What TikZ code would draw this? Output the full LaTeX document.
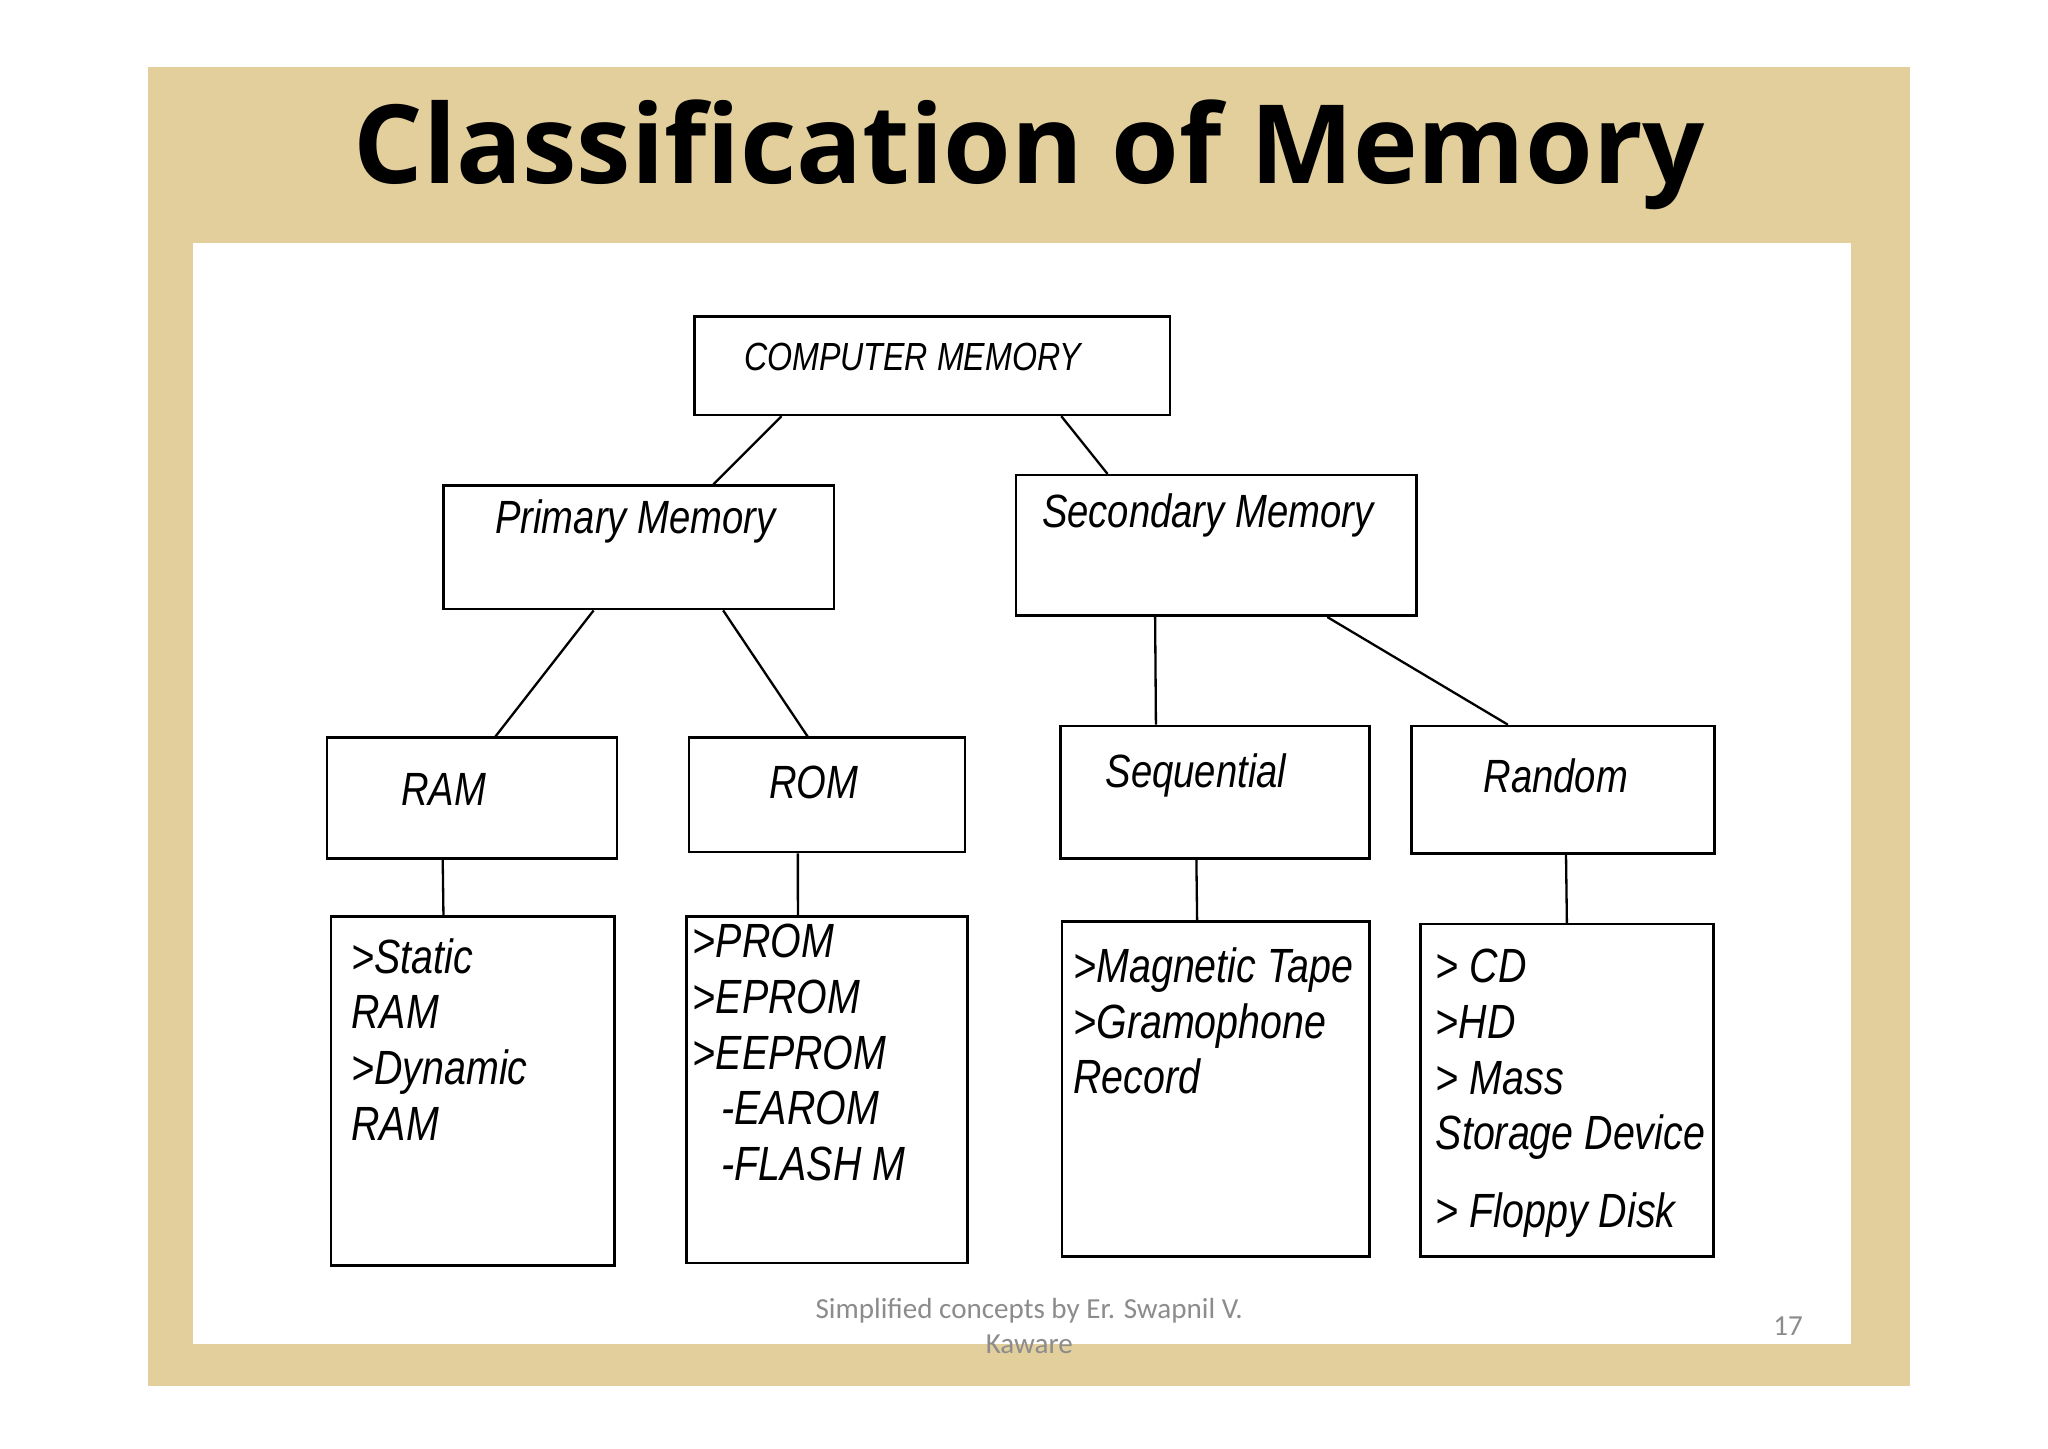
\documentclass[tikz,border=0pt]{standalone}
\usepackage{fontspec}
\setmainfont{Liberation Sans}
\newfontfamily\narrowsans[FakeStretch=0.82]{Liberation Sans}
\newfontfamily\titlefont{Open Sans}
\newfontfamily\footfont{Carlito}
\usetikzlibrary{calc, positioning}
\definecolor{burlap}{HTML}{E2CF9C}
\definecolor{footgray}{HTML}{8C8C8C}

\begin{document}
\begin{tikzpicture}[x=0.01cm, y=-0.01cm, thin]
    % Define block styles
    \tikzset{box/.style = {draw, line width=0.55pt, anchor=north west, inner sep=0pt},
        lbl/.style = {font=\narrowsans\itshape\fontsize{10.1}{12}\selectfont},
        items/.style = {anchor=north west, align=left, inner sep=0pt,
            font=\narrowsans\itshape\fontsize{10.4}{12.1}\selectfont},
        link/.style = {draw, line width=0.5pt}}

    % Slide background
    \useasboundingbox (0,0) rectangle (1560,1103);
    \fill[white] (0,0) rectangle (1560,1103);
    \fill[burlap] (113,51) rectangle (1455,1056);
    \fill[white] (147,185) rectangle (1410,1024);
    \node[font=\titlefont\bfseries\fontsize{23.7}{26}\selectfont] (title) at (784,118) {Classification of Memory};

    % Define nodes
    \node[box, minimum width=3.62cm, minimum height=0.75cm] (cm) at (528,240) {};
    \node[box, minimum width=2.97cm, minimum height=0.94cm] (prim) at (337,369) {};
    \node[box, minimum width=3.05cm, minimum height=1.07cm] (sec) at (773,361) {};
    \node[box, minimum width=2.21cm, minimum height=0.92cm] (ram) at (248,561) {};
    \node[box, minimum width=2.10cm, minimum height=0.87cm] (rom) at (524,561) {};
    \node[box, minimum width=2.35cm, minimum height=1.01cm] (seq) at (807,552) {};
    \node[box, minimum width=2.31cm, minimum height=0.97cm] (rnd) at (1074,552) {};
    \node[box, minimum width=2.16cm, minimum height=2.66cm] (ramlist) at (251,697) {};
    \node[box, minimum width=2.14cm, minimum height=2.64cm] (romlist) at (522,697) {};
    \node[box, minimum width=2.34cm, minimum height=2.55cm] (seqlist) at (808,701) {};
    \node[box, minimum width=2.23cm, minimum height=2.53cm] (rndlist) at (1081,703) {};

    % Labels
    \node[font=\narrowsans\itshape\fontsize{8.5}{10}\selectfont] (cmtext) at (695,272) {COMPUTER MEMORY};
    \node[lbl] (primtext) at (484,397) {Primary Memory};
    \node[lbl] (sectext) at (920,393) {Secondary Memory};
    \node[lbl] (ramtext) at (338,601) {RAM};
    \node[lbl] (romtext) at (620,596) {ROM};
    \node[lbl] (seqtext) at (911,591) {Sequential};
    \node[lbl] (rndtext) at (1185,591) {Random};
    \node[items] (ramitems) at (267,714) {>Static\\RAM\\>Dynamic\\RAM};
    \node[items] (romitems) at (527,703) {>PROM\\>EPROM\\>EEPROM\\\hspace{0.6em}-EAROM\\\hspace{0.6em}-FLASH M};
    \node[items] (seqitems) at (817,721) {>Magnetic Tape\\>Gramophone\\Record};
    \node[items] (rnditems) at (1093,722) {> CD\\>HD\\> Mass\\Storage Device\\[0.45em]> Floppy Disk};

    % Footer
    \node[font=\footfont\fontsize{6.3}{7.6}\selectfont, text=footgray, align=center] (foot) at (784,1010) {Simplified concepts by Er. Swapnil V.\\Kaware};
    \node[font=\footfont\fontsize{6.3}{7.6}\selectfont, text=footgray] (page) at (1362,1010) {17};

    % Draw edges
    \path[link] ($(cm.south west)!0.185!(cm.south east)$) -- ($(prim.north west)!0.69!(prim.north east)$);
    \path[link] ($(cm.south west)!0.77!(cm.south east)$) -- ($(sec.north west)!0.23!(sec.north east)$);
    \path[link] ($(prim.south west)!0.385!(prim.south east)$) -- ($(ram.north west)!0.58!(ram.north east)$);
    \path[link] ($(prim.south west)!0.715!(prim.south east)$) -- ($(rom.north west)!0.43!(rom.north east)$);
    \path[link] ($(sec.south west)!0.348!(sec.south east)$) -- ($(seq.north west)!0.31!(seq.north east)$);
    \path[link] ($(sec.south west)!0.775!(sec.south east)$) -- ($(rnd.north west)!0.32!(rnd.north east)$);
    \path[link] ($(ram.south west)!0.40!(ram.south east)$) -- ($(ramlist.north west)!0.398!(ramlist.north east)$);
    \path[link] ($(rom.south west)!0.395!(rom.south east)$) -- ($(romlist.north west)!0.397!(romlist.north east)$);
    \path[link] ($(seq.south west)!0.44!(seq.south east)$) -- ($(seqlist.north west)!0.44!(seqlist.north east)$);
    \path[link] ($(rnd.south west)!0.51!(rnd.south east)$) -- ($(rndlist.north west)!0.5!(rndlist.north east)$);
\end{tikzpicture}
\end{document}
